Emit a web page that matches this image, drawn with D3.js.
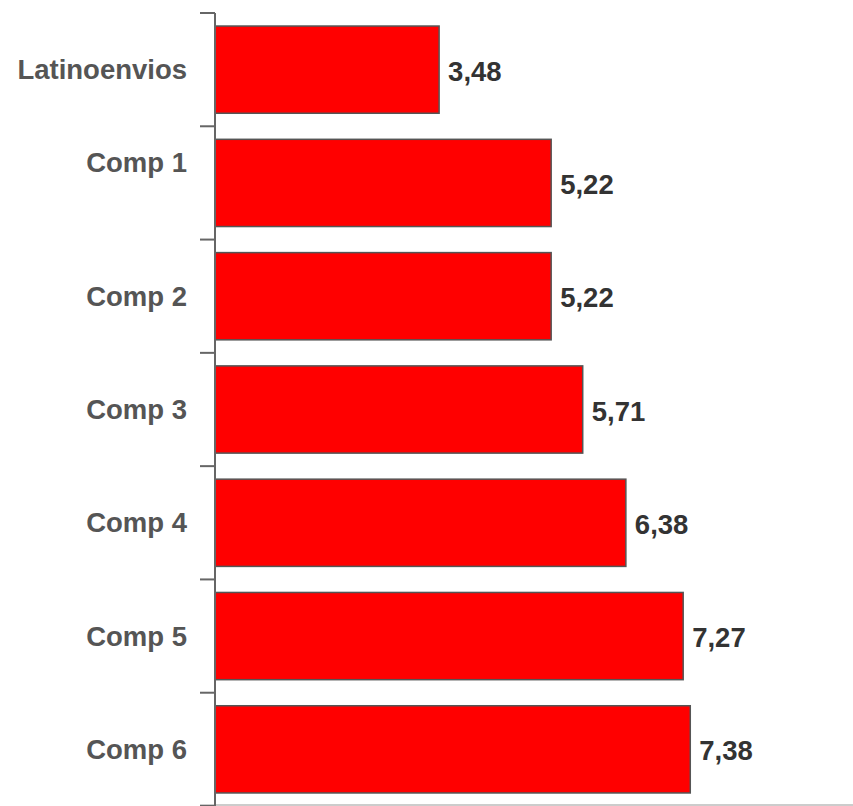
<!DOCTYPE html>
<html>
<head>
<meta charset="utf-8">
<script src="https://cdn.jsdelivr.net/npm/d3@7"></script>
<style>
  body { margin: 0; background: #fff; }
  text { font-family: "Liberation Sans", Arial, sans-serif; font-weight: bold; }
</style>
</head>
<body>
<div id="chart"></div>
<script>
// data
const categories = ["Latinoenvios", "Comp 1\n", "Comp 2", "Comp 3", "Comp 4", "Comp 5", "Comp 6"];
const values = [3.48, 5.22, 5.22, 5.71, 6.38, 7.27, 7.38];

const W = 853, H = 806;
const margin = { top: 13, right: 0, bottom: 0, left: 215 };

const svg = d3.select("#chart").append("svg")
  .attr("width", W)
  .attr("height", H);

const x = d3.scaleLinear().domain([0, 10]).range([margin.left, margin.left + 644]);
const y = d3.scaleBand()
  .domain(categories)
  .range([margin.top, H])
  .paddingInner(0.23)
  .paddingOuter(0.115);

const fmt = v => d3.format(".2f")(v).replace(".", ",");

// light baseline at the bottom
svg.append("line")
  .attr("x1", 200).attr("x2", W)
  .attr("y1", H - 1).attr("y2", H - 1)
  .attr("stroke", "#bbb").attr("stroke-width", 1.5);

// bars
svg.selectAll("rect.bar")
  .data(values)
  .join("rect")
  .attr("class", "bar")
  .attr("x", x(0))
  .attr("y", (d, i) => y(categories[i]))
  .attr("width", d => x(d) - x(0))
  .attr("height", y.bandwidth())
  .attr("fill", "#ff0000")
  .attr("stroke", "#555")
  .attr("stroke-width", 1.5);

// value labels
svg.selectAll("text.val")
  .data(values)
  .join("text")
  .attr("class", "val")
  .attr("x", d => x(d) + 9)
  .attr("y", (d, i) => y(categories[i]) + y.bandwidth() / 2 + 1.5)
  .attr("dy", "0.35em")
  .attr("font-size", 27.5)
  .attr("fill", "#333")
  .text(fmt);

// y axis: vertical line + ticks on band boundaries
const ax = svg.append("g");
ax.append("line")
  .attr("x1", margin.left).attr("x2", margin.left)
  .attr("y1", margin.top).attr("y2", H)
  .attr("stroke", "#666").attr("stroke-width", 2);
const bounds = d3.range(categories.length + 1).map(i => margin.top + i * y.step());
ax.selectAll("line.tick")
  .data(bounds)
  .join("line")
  .attr("class", "tick")
  .attr("x1", margin.left - 15).attr("x2", margin.left)
  .attr("y1", d => d).attr("y2", d => d)
  .attr("stroke", "#666").attr("stroke-width", 2);

// category labels (a label with a trailing newline is a 2-line block, so it sits higher)
const lineH = 42;
categories.forEach((c, i) => {
  const lines = c.split("\n");
  const cy = y(c) + y.bandwidth() / 2 - (lines.length - 1) * lineH / 2;
  const t = svg.append("text")
    .attr("x", 187)
    .attr("text-anchor", "end")
    .attr("font-size", 27.5)
    .attr("fill", "#555");
  lines.forEach((l, j) => {
    t.append("tspan")
      .attr("x", 187)
      .attr("y", cy + j * lineH)
      .attr("dy", "0.35em")
      .text(l);
  });
});
</script>
</body>
</html>
